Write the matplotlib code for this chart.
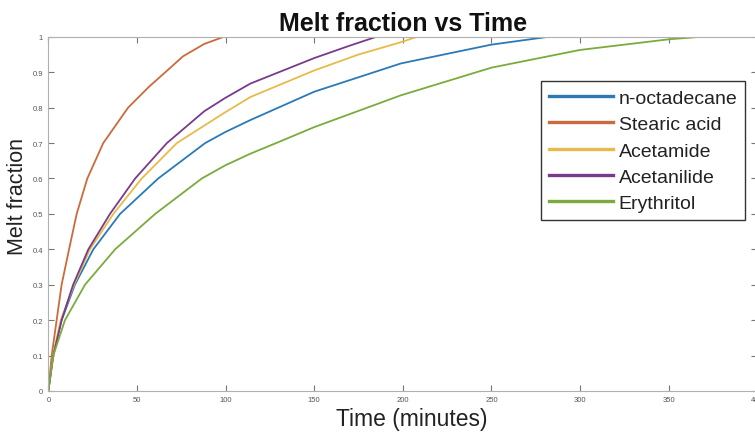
import matplotlib
matplotlib.use("Agg")
import matplotlib.pyplot as plt

# values (time in minutes, melt fraction)
t_octadecane = [0, 2.7, 7.5, 15, 25.4, 40.5, 62, 88.5, 99.8, 114, 150, 199, 250, 282]
f_octadecane = [0, 0.10, 0.20, 0.30, 0.40, 0.50, 0.60, 0.70, 0.731, 0.765, 0.845, 0.925, 0.978, 1.0]

t_stearic = [0, 1.9, 4.7, 7.5, 11.7, 16, 22, 31, 45, 57, 66, 76, 88, 99]
f_stearic = [0, 0.10, 0.20, 0.30, 0.40, 0.50, 0.60, 0.70, 0.80, 0.86, 0.90, 0.945, 0.98, 1.0]

t_acetamide = [0, 2.6, 7, 14.5, 23.5, 36.7, 52.7, 72.5, 99.8, 114, 150, 175, 199, 208]
f_acetamide = [0, 0.10, 0.20, 0.30, 0.40, 0.50, 0.60, 0.70, 0.787, 0.83, 0.905, 0.95, 0.985, 1.0]

t_acetanilide = [0, 2.8, 7.5, 14, 22.6, 34.8, 49, 66.9, 88, 100, 114, 150, 170, 185]
f_acetanilide = [0, 0.10, 0.20, 0.30, 0.40, 0.50, 0.60, 0.70, 0.79, 0.828, 0.868, 0.94, 0.975, 1.0]

t_erythritol = [0, 2.8, 9.4, 20.7, 37.7, 60.3, 86.6, 99.8, 114, 130, 150, 199, 250, 300, 350, 368]
f_erythritol = [0, 0.10, 0.20, 0.30, 0.40, 0.50, 0.60, 0.637, 0.67, 0.703, 0.745, 0.835, 0.913, 0.963, 0.993, 1.0]

labels = ["n-octadecane", "Stearic acid", "Acetamide", "Acetanilide", "Erythritol"]
colors = ["#2a7ab8", "#cc6a3c", "#e6bb4a", "#7a3a8c", "#7aab3c"]

x_ticks = list(range(0, 401, 50))
y_ticks = [0, 0.1, 0.2, 0.3, 0.4, 0.5, 0.6, 0.7, 0.8, 0.9, 1]
y_ticklabels = ["0", "0.1", "0.2", "0.3", "0.4", "0.5", "0.6", "0.7", "0.8", "0.9", "1"]

plt.rcParams['font.family'] = ['Liberation Sans', 'DejaVu Sans']

fig = plt.figure(figsize=(7.55, 4.35), dpi=100)
ax = fig.add_axes([0.064, 0.099, 0.939, 0.814])

series = [(t_octadecane, f_octadecane), (t_stearic, f_stearic),
          (t_acetamide, f_acetamide), (t_acetanilide, f_acetanilide),
          (t_erythritol, f_erythritol)]
for (t, f), lab, col in zip(series, labels, colors):
    ax.plot(t, f, color=col, lw=1.3, label=lab, solid_joinstyle='round')

ax.set_xlim(0, 400)
ax.set_ylim(0, 1)
ax.set_xticks(x_ticks)
ax.set_xticklabels([str(v) for v in x_ticks])
ax.set_yticks(y_ticks)
ax.set_yticklabels(y_ticklabels)
ax.tick_params(direction='in', top=True, right=True, length=4, width=0.8,
               color='#777777', labelsize=5.5, labelcolor='#555555', pad=4)
for sp in ax.spines.values():
    sp.set_color('#b0b0b0')
    sp.set_linewidth(0.8)

ax.set_title("Melt fraction vs Time", fontsize=18, fontweight='bold', pad=5, color='#111111')
ax.set_xlabel("Time (minutes)", fontsize=16.5, color='#222222')
ax.set_ylabel("Melt fraction", fontsize=15.5, color='#222222')
ax.xaxis.set_label_coords(0.513, -0.045)
ax.yaxis.set_label_coords(-0.029, 0.552)

leg = ax.legend(loc='upper right', bbox_to_anchor=(0.983, 0.874), borderaxespad=0,
                fontsize=14, handlelength=3.3, handletextpad=0.3, labelspacing=0.45,
                borderpad=0.4, fancybox=False, framealpha=1, edgecolor='#333333')
leg.get_frame().set_linewidth(1.0)
for line in leg.get_lines():
    line.set_linewidth(2.4)
for txt in leg.get_texts():
    txt.set_color('#222222')

fig.savefig("out.png", dpi=100)
